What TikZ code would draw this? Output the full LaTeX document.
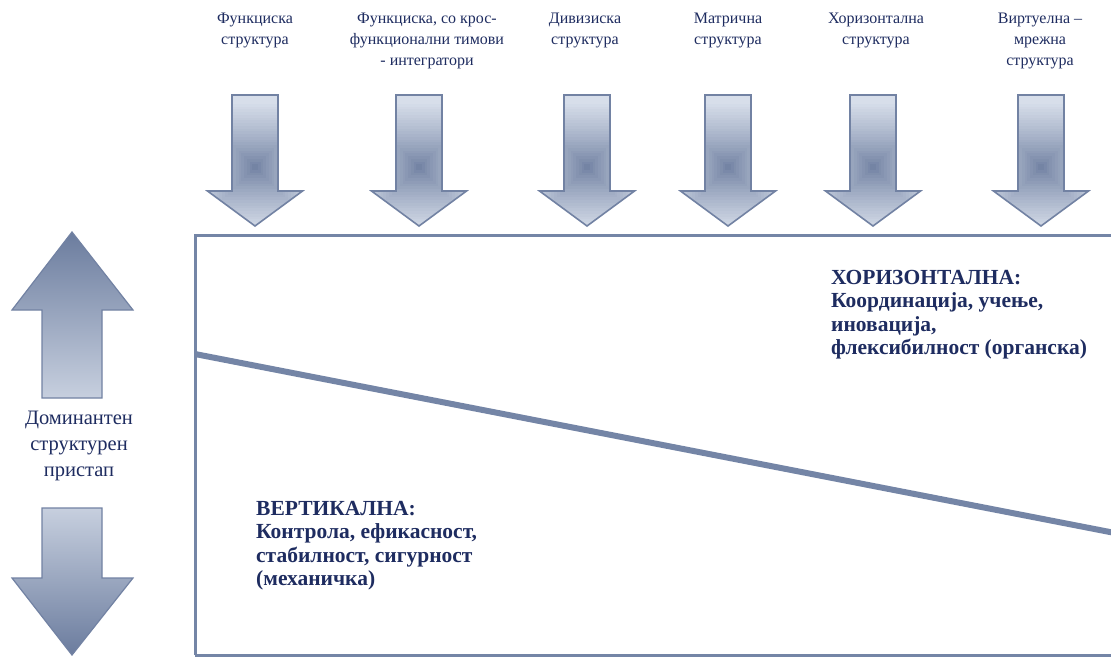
\documentclass[tikz,border=0pt]{standalone}
\usepackage{fontspec}
\setmainfont{Liberation Serif}
\usetikzlibrary{calc}
\definecolor{navy}{HTML}{1E2C60}
\definecolor{arrowdark}{HTML}{6B7C9E}
\definecolor{arrowlight}{HTML}{D7DEEA}
\definecolor{arrowedge}{HTML}{7282A3}
\definecolor{frameline}{HTML}{7485A6}
\tikzset{
  toplabel/.style={font=\fontsize{16}{21}\selectfont, text=navy, align=center, anchor=north, inner sep=0pt},
  sidelabel/.style={font=\fontsize{20.5}{26}\selectfont, text=navy, align=center, inner sep=0pt},
  zonelabel/.style={font=\fontsize{21.5}{23.5}\selectfont\bfseries, text=navy, align=left, anchor=north west, inner sep=0pt},
  edge/.style={draw=arrowedge, line width=1.6pt, line join=miter},
  % block arrow pointing down, filled with nested squares that darken towards the middle
  downarr/.pic={
    \begin{scope}
      \clip (-23,95) -- (23,95) -- (23,191) -- (47.5,191) -- (0,226) -- (-47.5,191) -- (-23,191) -- cycle;
      \fill[arrowlight] (-50,90) rectangle (50,230);
      \foreach \i in {24,23,...,1} {
        \pgfmathsetmacro\rr{66*\i/24}
        \pgfmathsetmacro\pc{100*(\i/24)^0.8}
        \fill[arrowlight!\pc!arrowdark] (-\rr,167-\rr) rectangle (\rr,167+\rr);
      }
    \end{scope}
    \path[edge] (-23,95) -- (23,95) -- (23,191) -- (47.5,191) -- (0,226) -- (-47.5,191) -- (-23,191) -- cycle;
  }
}
\begin{document}
\begin{tikzpicture}[x=1pt,y=-1pt]
  \clip (0,0) rectangle (1111,657);
  \fill[white] (0,0) rectangle (1111,657);

  % frame of the chart
  \draw[frameline, line width=3pt] (195,655) -- (195,235) -- (1120,235);
  \draw[frameline, line width=3pt] (195,655) -- (1120,655);

  % boundary between the two dominant approaches
  \coordinate (divL) at (195,354);
  \coordinate (divR) at (1115,533);
  \draw[frameline, line width=6pt] (divL) -- (divR);

  % structure types, each with its arrow
  \foreach \n/\cx/\txt in {
      s1/255/{Функциска\\структура},
      s2/427/{Функциска, со крос-\\функционални тимови\\- интегратори},
      s3/585/{Дивизиска\\структура},
      s4/728/{Матрична\\структура},
      s5/876/{Хоризонтална\\структура},
      s6/1040/{Виртуелна –\\мрежна\\структура}} {
    \node[toplabel] (\n) at (\cx,13) {\txt};
  }
  \foreach \n/\cx in {s1/255, s2/419, s3/587, s4/728, s5/873, s6/1041} {
    \pic (\n arrow) at (\cx,0) {downarr};
  }

  % vertical double arrow on the left
  \shade[top color=arrowdark, bottom color=arrowlight!85!arrowdark, draw=arrowedge, line width=1.2pt]
    (72,232) -- (133,310) -- (102,310) -- (102,398) -- (42,398) -- (42,310) -- (12,310) -- cycle;
  \shade[top color=arrowlight!85!arrowdark, bottom color=arrowdark, draw=arrowedge, line width=1.2pt]
    (42,508) -- (102,508) -- (102,578) -- (133,578) -- (72,655) -- (12,578) -- (42,578) -- cycle;
  \node[sidelabel] (dominant) at (79,446) {Доминантен\\структурен\\пристап};

  % the two zones
  \node[zonelabel] (horizontal) at (831,270)
    {ХОРИЗОНТАЛНА:\\Координација, учење,\\иновација,\\флексибилност (органска)};
  \node[zonelabel] (vertical) at (256,501)
    {ВЕРТИКАЛНА:\\Контрола, ефикасност,\\стабилност, сигурност\\(механичка)};
\end{tikzpicture}
\end{document}
